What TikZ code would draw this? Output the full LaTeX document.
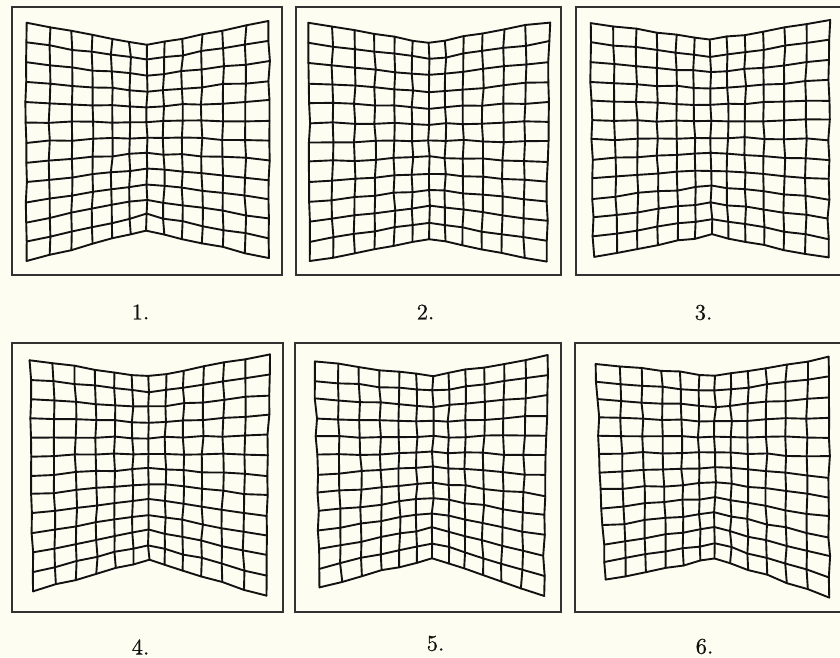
\documentclass[tikz,border=0pt]{standalone}
\usepackage{fontspec}
\newfontfamily\numfont[FakeBold=0.6]{lmroman10-regular.otf}
\usetikzlibrary{calc}
\definecolor{paper}{RGB}{254,253,241}
\definecolor{ink}{RGB}{18,18,18}
\definecolor{framec}{RGB}{50,50,50}
\tikzset{
  gridline/.style={draw=ink, line width=1.9pt, line join=round, line cap=round},
  framebox/.style={draw=framec, line width=1.6pt},
  numlabel/.style={inner sep=0pt, font=\numfont\fontsize{22.5}{26}\selectfont, text=ink}
}
% #1 prefix, #2..#7 = TL, TC, TR, BL, BC, BR, #8 seed
\newcommand\warpgrid[8]{%
  \pgfmathsetseed{#8}%
  \coordinate (#1TL) at (#2);
  \coordinate (#1TC) at (#3);
  \coordinate (#1TR) at (#4);
  \coordinate (#1BL) at (#5);
  \coordinate (#1BC) at (#6);
  \coordinate (#1BR) at (#7);
  \foreach \i in {0,...,12}{
    \foreach \j in {0,...,12}{
      \pgfmathsetmacro\s{\i<7 ? \i/6 : (12-\i)/6}
      \pgfmathsetmacro\f{\s+0.2*\s*(1-\s)}
      \pgfmathsetmacro\v{\j/12}
      \pgfmathsetmacro\jx{1.0*rand}
      \pgfmathsetmacro\jy{1.0*rand}
      \ifnum\i<7 \def\A{#1TL}\def\B{#1BL}\else\def\A{#1TR}\def\B{#1BR}\fi
      \coordinate (#1-\i-\j) at ($ ($(\A)!\f!(#1TC)$)!\v!($(\B)!\f!(#1BC)$) + (\jx,\jy) $);
    }
  }
  \foreach \j in {0,...,12}{
    \draw[gridline] (#1-0-\j) \foreach \i in {1,...,12}{ -- (#1-\i-\j) };
  }
  \foreach \i in {0,...,12}{
    \draw[gridline] (#1-\i-0) \foreach \j in {1,...,12}{ -- (#1-\i-\j) };
  }
}
\begin{document}
\begin{tikzpicture}[x=1pt,y=-1pt]
  \fill[paper] (0,0) rectangle (840,658);
  \useasboundingbox (0,0) rectangle (840,658);
  \begin{scope}
    \clip (0,0) rectangle (840,658);
    % frames
    \draw[framebox] (12,7) rectangle (282,275);
    \draw[framebox] (296,7) rectangle (561,275);
    \draw[framebox] (576,7) rectangle (846,275);
    \draw[framebox] (12,343) rectangle (283,612);
    \draw[framebox] (295,343) rectangle (561,612);
    \draw[framebox] (575,343) rectangle (846,612);
    % grids
    \warpgrid{a}{26,22.7}{146.7,45}{269.3,21.7}{26,261.7}{146.7,230}{269.3,258.3}{11}
    \warpgrid{b}{309.3,23.3}{429,42.7}{549.3,21.7}{309.3,261.7}{429,238.3}{546.7,261.7}{23}
    \warpgrid{c}{590,22.7}{710.7,40}{829.3,20.7}{593.3,256.7}{711.7,235}{828.3,258.3}{37}
    \warpgrid{d}{30,360}{149,376.7}{269.3,355}{32.7,590.7}{149,560}{266,596}{41}
    \warpgrid{e}{315,361.7}{432.7,376}{548.3,356}{319.3,586.7}{432.7,558.3}{543.3,595}{53}
    \warpgrid{f}{596,363.3}{715,376}{829.3,357.3}{605,580}{715,558.3}{829.3,596.7}{67}
  \end{scope}
  % labels
  \node[numlabel] (l1) at (140.5,312) {1.};
  \node[numlabel] (l2) at (425.5,312) {2.};
  \node[numlabel] (l3) at (703.5,312.5) {3.};
  \node[numlabel] (l4) at (140.5,647) {4.};
  \node[numlabel] (l5) at (435.5,643.5) {5.};
  \node[numlabel] (l6) at (704.5,646.5) {6.};
\end{tikzpicture}
\end{document}
